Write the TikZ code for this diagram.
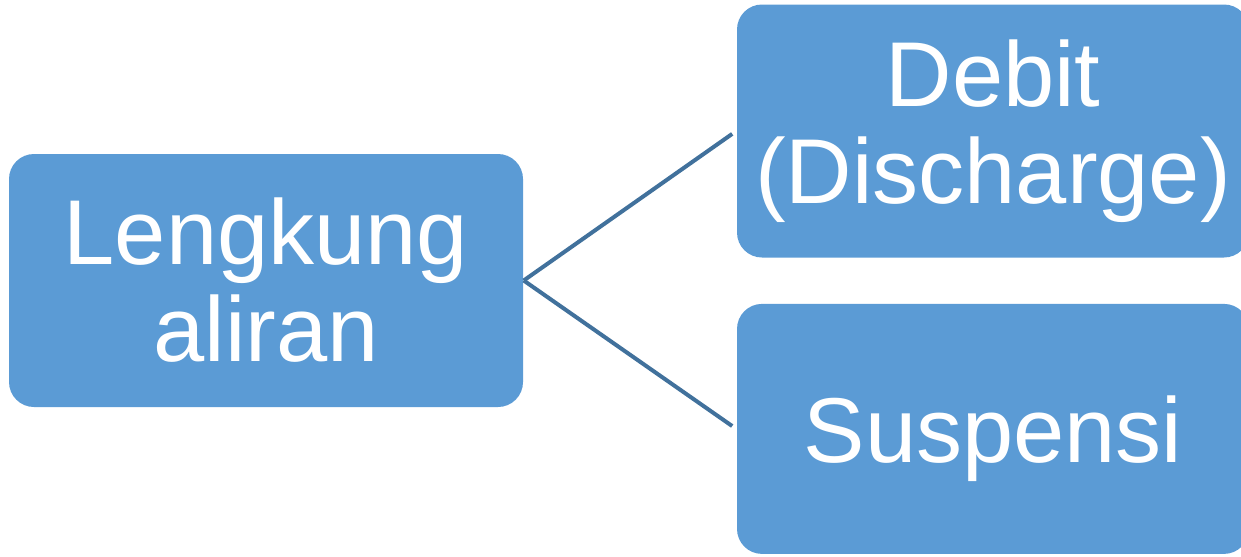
\documentclass[tikz,border=0pt]{standalone}
\usepackage{fontspec}
\setmainfont{Liberation Sans}
\usepackage{xcolor}
\usetikzlibrary{positioning}
\definecolor{boxblue}{HTML}{5B9BD5}
\definecolor{lineblue}{HTML}{41719C}
\tikzset{
  topicbox/.style={fill=boxblue, draw=none, rounded corners=0.25cm,
    text=white, align=center,
    font=\fontsize{26.2}{27.6}\selectfont},
  branch/.style={draw=lineblue, line width=0.04cm, shorten >=0.05cm}
}

\begin{document}
\begin{tikzpicture}
\useasboundingbox (0,0) rectangle (12.41,5.56);
 % Main topic
 \node[topicbox,
        minimum width=5.14cm,
        minimum height=2.53cm
        ] (lengkung) at (2.66,2.755) {Lengkung\\aliran};

% Upper branch
\node [topicbox,
    minimum width=5.12cm,
    minimum height=2.53cm
]  (debit) at (9.93,4.25) {Debit\\(Discharge)};

% Lower branch
\node [topicbox,
    minimum width=5.12cm,
    minimum height=2.50cm,
    text depth=0pt,
    below=0.45cm of debit
] (suspensi) {Suspensi};

% Connectors
\draw[branch] (lengkung.east) -- (debit.west);
\draw[branch] (lengkung.east) -- (suspensi.west);

\end{tikzpicture}
\end{document}
